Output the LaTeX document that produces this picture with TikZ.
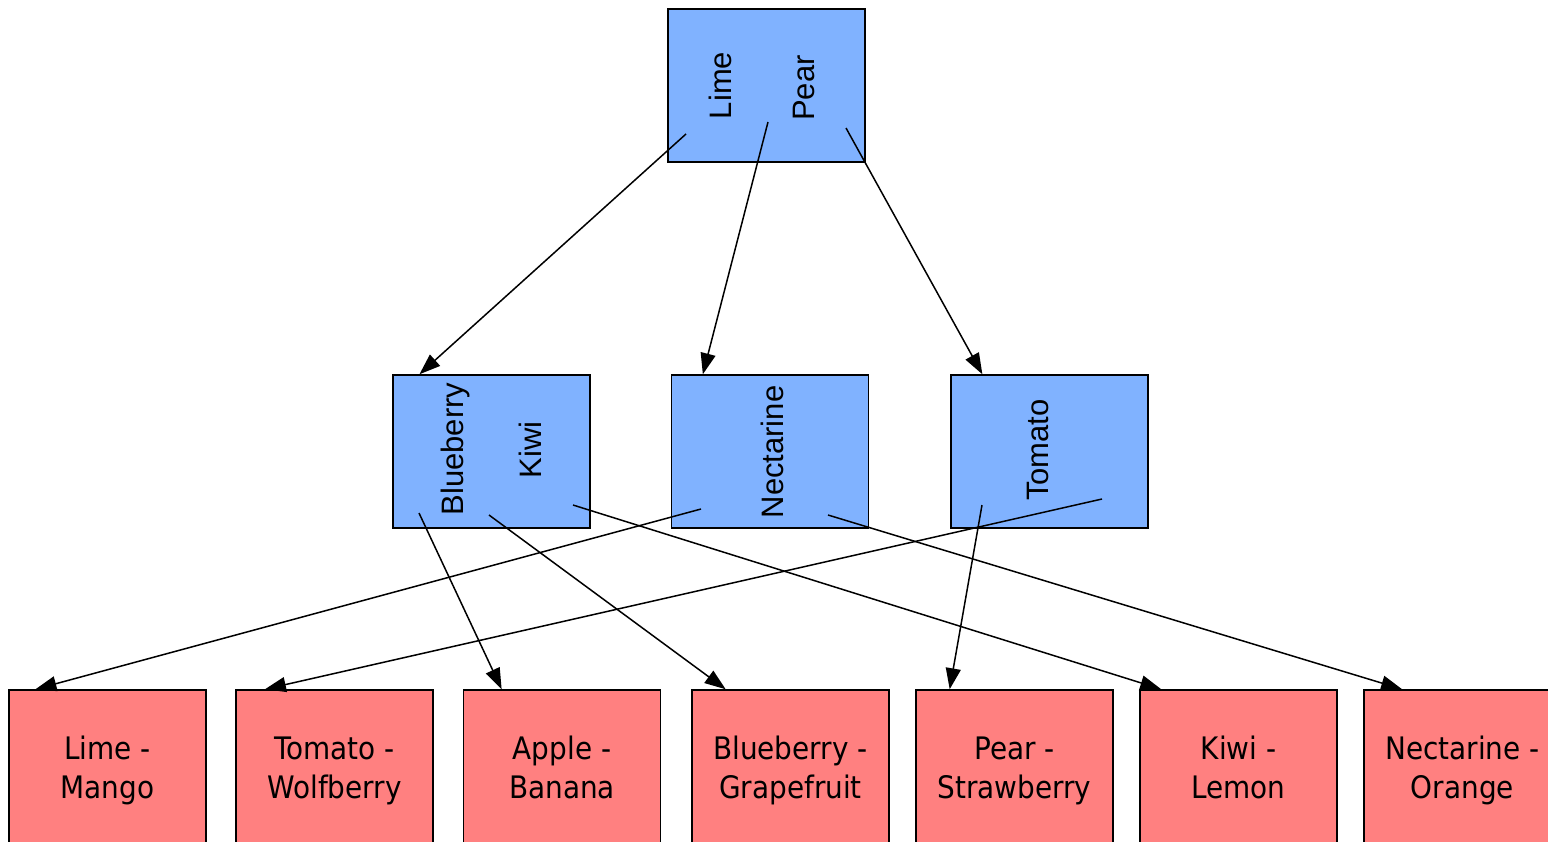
\documentclass[tikz,border=0pt]{standalone}
\usepackage{fontspec}
\usetikzlibrary{arrows.meta}
\newfontfamily\keyfont{Liberation Sans}
\newfontfamily\leaffont[FakeStretch=0.9]{DejaVu Sans}
\definecolor{innerblue}{RGB}{128,178,255}
\definecolor{leafred}{RGB}{255,128,128}

\begin{document}
\begin{tikzpicture}[x=1pt, y=1pt, line width=1.5pt,
  inner/.style={draw=black, fill=innerblue, minimum width=197pt, minimum height=153pt, inner sep=0pt},
  leaf/.style={draw=black, fill=leafred, minimum width=197pt, minimum height=153pt, inner sep=0pt,
    align=center, text height=73pt, text depth=10pt, font=\leaffont\fontsize{31}{38.5}\selectfont},
  key/.style={rotate=90, inner sep=0pt, font=\keyfont\fontsize{31}{36}\selectfont},
  ptr/.style={draw=black, line width=1.5pt, -{Triangle[length=21pt, width=15pt]}}]
  \useasboundingbox (0,0) rectangle (1548,-841);

  % inner nodes
  \node[inner] (root) at (766.5,-85.5) {};
  \node[inner] (blueKiwi) at (491.5,-451.5) {};
  \node[inner] (nectarine) at (770,-451.5) {};
  \node[inner] (tomato) at (1049.5,-451.5) {};

  \node[key] (kLime) at (720,-85.5) {Lime};
  \node[key] (kPear) at (804,-88) {Pear};
  \node[key] (kBlueberry) at (455,-449) {Blueberry};
  \node[key] (kKiwi) at (530,-450) {Kiwi};
  \node[key] (kNectarine) at (772,-452) {Nectarine};
  \node[key] (kTomato) at (1038,-450) {Tomato};

  % leaves
  \node[leaf] (limeMango) at (107.5,-766.5) {Lime -\\Mango};
  \node[leaf] (tomatoWolfberry) at (334.5,-766.5) {Tomato -\\Wolfberry};
  \node[leaf] (appleBanana) at (562,-766.5) {Apple -\\Banana};
  \node[leaf] (blueberryGrapefruit) at (790.5,-766.5) {Blueberry -\\Grapefruit};
  \node[leaf] (pearStrawberry) at (1014.5,-766.5) {Pear -\\Strawberry};
  \node[leaf] (kiwiLemon) at (1238.5,-766.5) {Kiwi -\\Lemon};
  \node[leaf] (nectarineOrange) at (1462.5,-766.5) {Nectarine -\\Orange};

  % child pointers
  \coordinate (rootP0) at (686,-134);
  \coordinate (rootP1) at (768,-122);
  \coordinate (rootP2) at (846,-128);
  \coordinate (blueKiwiP0) at (419,-513);
  \coordinate (blueKiwiP1) at (489,-515);
  \coordinate (blueKiwiP2) at (573,-505);
  \coordinate (nectarineP0) at (701,-509);
  \coordinate (nectarineP1) at (828,-515);
  \coordinate (tomatoP0) at (982,-505);
  \coordinate (tomatoP1) at (1102,-499);

  \path[ptr] (rootP0) -- (blueKiwi.133);
  \path[ptr] (rootP1) -- (nectarine.131);
  \path[ptr] (rootP2) -- (tomato.131.5);
  \path[ptr] (blueKiwiP0) -- (appleBanana.128);
  \path[ptr] (blueKiwiP1) -- (blueberryGrapefruit.130);
  \path[ptr] (blueKiwiP2) -- (kiwiLemon.135);
  \path[ptr] (nectarineP0) -- (limeMango.133);
  \path[ptr] (nectarineP1) -- (nectarineOrange.128);
  \path[ptr] (tomatoP0) -- (pearStrawberry.130);
  \path[ptr] (tomatoP1) -- (tomatoWolfberry.132);
\end{tikzpicture}
\end{document}
